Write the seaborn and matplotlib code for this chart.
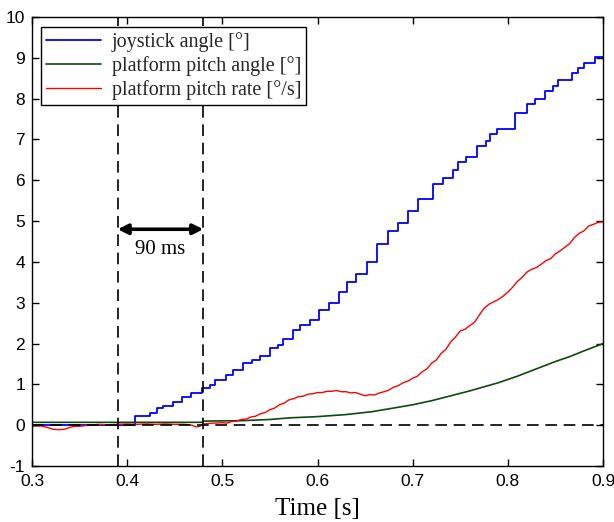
import matplotlib
matplotlib.use("Agg")
import matplotlib.pyplot as plt
import seaborn as sns
import pandas as pd

# ---- data ----
t_joy = [0.30, 0.408, 0.424, 0.431, 0.438, 0.448, 0.458, 0.467, 0.479, 0.487, 0.492,
         0.504, 0.511, 0.522, 0.531, 0.540, 0.550, 0.558, 0.564, 0.574, 0.582, 0.592,
         0.602, 0.612, 0.623, 0.631, 0.640, 0.652, 0.663, 0.674, 0.685, 0.695, 0.706,
         0.721, 0.732, 0.742, 0.748, 0.756, 0.768, 0.777, 0.781, 0.789, 0.808, 0.820,
         0.829, 0.839, 0.847, 0.853, 0.867, 0.874, 0.880, 0.892, 0.900]
v_joy = [0.0, 0.22, 0.31, 0.43, 0.48, 0.58, 0.70, 0.80, 0.92, 0.99, 1.11,
         1.23, 1.36, 1.53, 1.60, 1.70, 1.90, 1.97, 2.10, 2.34, 2.46, 2.58,
         2.83, 3.00, 3.27, 3.51, 3.71, 4.00, 4.44, 4.76, 4.96, 5.25, 5.54,
         5.91, 6.06, 6.25, 6.45, 6.58, 6.85, 6.97, 7.14, 7.26, 7.64, 7.86,
         7.99, 8.19, 8.31, 8.46, 8.64, 8.74, 8.87, 9.02, 9.02]

t_ang = [0.30, 0.478, 0.48, 0.52, 0.55, 0.571, 0.60, 0.63, 0.657, 0.68, 0.70, 0.72,
         0.74, 0.76, 0.79, 0.81, 0.83, 0.85, 0.865, 0.88, 0.90]
v_ang = [0.07, 0.07, 0.10, 0.11, 0.14, 0.18, 0.21, 0.26, 0.33, 0.42, 0.50, 0.60,
         0.72, 0.84, 1.04, 1.20, 1.38, 1.56, 1.68, 1.82, 2.00]

t_rate = [0.300, 0.310, 0.317, 0.322, 0.328, 0.334, 0.339, 0.344, 0.349, 0.360, 0.370,
          0.380, 0.390, 0.400, 0.410, 0.420, 0.430, 0.440, 0.450, 0.460, 0.468, 0.472,
          0.476, 0.480, 0.490,
          0.500, 0.505, 0.510, 0.515, 0.520, 0.525, 0.530, 0.535, 0.540, 0.545,
          0.550, 0.555, 0.560, 0.565, 0.570, 0.575, 0.580, 0.585, 0.590, 0.595,
          0.600, 0.605, 0.610, 0.615, 0.620, 0.625, 0.630, 0.635, 0.640, 0.645,
          0.650, 0.655, 0.660, 0.665, 0.670, 0.675, 0.680, 0.685, 0.690, 0.695,
          0.700, 0.705, 0.710, 0.715, 0.720, 0.725, 0.730, 0.735, 0.740, 0.745,
          0.750, 0.755, 0.760, 0.765, 0.770, 0.775, 0.780, 0.785, 0.790, 0.795,
          0.800, 0.805, 0.810, 0.815, 0.820, 0.825, 0.830, 0.835, 0.840, 0.845,
          0.850, 0.855, 0.860, 0.865, 0.870, 0.875, 0.880, 0.885, 0.890, 0.895,
          0.900]
v_rate = [-0.02, -0.02, -0.06, -0.10, -0.11, -0.10, -0.06, -0.03, -0.03, 0.00, 0.02,
          0.01, 0.02, 0.03, 0.02, 0.03, 0.02, 0.03, 0.02, 0.02, 0.00, -0.04,
          -0.03, 0.03, 0.05,
          0.06, 0.05, 0.09, 0.10, 0.14, 0.15, 0.20, 0.22, 0.28, 0.31,
          0.38, 0.42, 0.50, 0.54, 0.62, 0.65, 0.70, 0.71, 0.76, 0.77,
          0.80, 0.80, 0.83, 0.83, 0.85, 0.82, 0.82, 0.79, 0.80, 0.76,
          0.72, 0.75, 0.74, 0.79, 0.82, 0.86, 0.93, 0.97, 1.04, 1.08,
          1.15, 1.20, 1.31, 1.38, 1.52, 1.60, 1.76, 1.86, 2.04, 2.16,
          2.31, 2.35, 2.44, 2.52, 2.70, 2.86, 2.96, 3.02, 3.08, 3.16,
          3.26, 3.38, 3.52, 3.62, 3.75, 3.82, 3.86, 3.94, 4.03, 4.08,
          4.20, 4.27, 4.36, 4.45, 4.60, 4.70, 4.76, 4.88, 4.92, 4.97,
          4.98]

marker_times = [0.39, 0.48]
delay_label = "90 ms"
labels = ["joystick angle [°]", "platform pitch angle [°]", "platform pitch rate [°/s]"]
x_ticks = [0.3, 0.4, 0.5, 0.6, 0.7, 0.8, 0.9]
y_ticks = list(range(-1, 11))

# ---- plot ----
sns.set_theme(style="white")
plt.rcParams['font.family'] = ['Liberation Sans', 'DejaVu Sans']
plt.rcParams['xtick.direction'] = 'in'
plt.rcParams['ytick.direction'] = 'in'
serif = ["Liberation Serif", "DejaVu Serif"]

fig = plt.figure(figsize=(6.14, 5.22), dpi=100)
ax = fig.add_axes([32/614, 1-466/522, 571/614, 449/522])

df_joy = pd.DataFrame({"t": t_joy, "v": v_joy})
df_ang = pd.DataFrame({"t": t_ang, "v": v_ang})
df_rate = pd.DataFrame({"t": t_rate, "v": v_rate})

sns.lineplot(data=df_joy, x="t", y="v", ax=ax, color="#0000ff", lw=1.3,
             drawstyle="steps-post", label=labels[0], zorder=2)
sns.lineplot(data=df_ang, x="t", y="v", ax=ax, color="#0d4a0d", lw=1.2,
             label=labels[1], zorder=2)
sns.lineplot(data=df_rate, x="t", y="v", ax=ax, color="#ff0000", lw=1.0,
             label=labels[2], zorder=2)

dash = (0, (7, 4))
ax.axhline(0, color="black", lw=1.2, linestyle=dash, zorder=3)
for mt in marker_times:
    ax.axvline(mt, color="black", lw=1.2, linestyle=dash, zorder=3)

ax.annotate("", xy=(marker_times[0], 4.8), xytext=(marker_times[1], 4.8),
            arrowprops=dict(arrowstyle="<|-|>", color="black", lw=2.6,
                            mutation_scale=15, shrinkA=0, shrinkB=0))
ax.text(sum(marker_times)/2, 4.3, delay_label, ha="center", va="center",
        fontsize=15, family=serif, color="black")

ax.set_xlim(0.3, 0.9)
ax.set_ylim(-1, 10)
ax.set_xticks(x_ticks)
ax.set_xticklabels([f"{v:g}" for v in x_ticks])
ax.set_yticks(y_ticks)
ax.set_yticklabels([str(v) for v in y_ticks])
ax.tick_params(axis="both", which="major", labelsize=12.5, length=5, width=1,
               direction="in", top=True, right=True, bottom=True, left=True,
               colors="black")
ax.tick_params(axis="x", pad=6)
ax.tick_params(axis="y", pad=5)
ax.set_xlabel("Time [s]", fontsize=18, family=serif, labelpad=6, color="black")
ax.set_ylabel("")
for s in ax.spines.values():
    s.set_color("black")
    s.set_linewidth(1.0)

leg = ax.legend(loc="upper left", bbox_to_anchor=(0.016, 0.978), borderaxespad=0,
                frameon=True, fancybox=False, handlelength=2.7, handletextpad=0.55,
                labelspacing=0.2, borderpad=0.25,
                prop={"family": serif, "size": 14.5})
leg.get_frame().set_edgecolor("black")
leg.get_frame().set_linewidth(1.0)
leg.get_frame().set_alpha(1)

fig.savefig("out.png", dpi=100)
